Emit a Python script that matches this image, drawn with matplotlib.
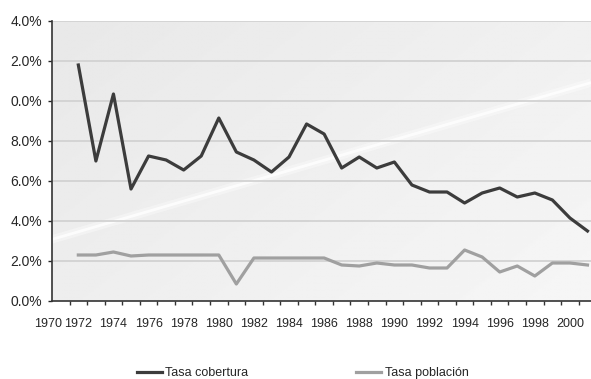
import numpy as np
import matplotlib
matplotlib.use("Agg")
import matplotlib.pyplot as plt

plt.rcParams['font.family'] = ['Liberation Sans', 'DejaVu Sans']

years = list(range(1972, 2002))
# tasa de cobertura (%)
cobertura = [11.8, 7.0, 10.35, 5.6, 7.25, 7.05, 6.55, 7.25, 9.15, 7.45,
             7.05, 6.45, 7.2, 8.85, 8.35, 6.65, 7.2, 6.65, 6.95, 5.8,
             5.45, 5.45, 4.9, 5.4, 5.65, 5.2, 5.4, 5.05, 4.15, 3.5]
# tasa de poblacion (%)
poblacion = [2.3, 2.3, 2.45, 2.25, 2.3, 2.3, 2.3, 2.3, 2.3, 0.85,
             2.15, 2.15, 2.15, 2.15, 2.15, 1.8, 1.75, 1.9, 1.8, 1.8,
             1.65, 1.65, 2.55, 2.2, 1.45, 1.75, 1.25, 1.9, 1.9, 1.8]

ytick_vals = [0, 2, 4, 6, 8, 10, 12, 14]
ytick_labels = ["0.0%", "2.0%", "4.0%", "6.0%", "8.0%", "0.0%", "2.0%", "4.0%"]
xtick_years = list(range(1972, 2001, 2))

txt = '#262626'

fig = plt.figure(figsize=(5.91, 3.79), dpi=100)
ax = fig.add_axes([52 / 591, 1 - 301 / 379, 1 - 52 / 591, 280 / 379])

# grey gradient background with a light diagonal streak
gx, gy = np.meshgrid(np.linspace(0, 1, 200), np.linspace(0, 1, 200))
grad = 0.91 + 0.055 * (0.6 * gx + 0.4 * gy)
ax.imshow(grad, extent=[0, 1, 0, 1], transform=ax.transAxes, cmap='gray',
          vmin=0, vmax=1, aspect='auto', zorder=0, origin='upper')
ax.plot([0, 1], [0.22, 0.78], transform=ax.transAxes, color='white',
        lw=6, alpha=0.35, zorder=1, solid_capstyle='butt')
ax.plot([0, 1], [0.22, 0.78], transform=ax.transAxes, color='white',
        lw=2, alpha=0.8, zorder=1, solid_capstyle='butt')

for v in ytick_vals[1:]:
    ax.axhline(v, color='#d2d2d2', lw=1.3, zorder=2)

ax.plot(years, cobertura, color='#3c3c3c', lw=2.3, zorder=4, label='Tasa cobertura')
ax.plot(years, poblacion, color='#a0a0a0', lw=2.3, zorder=3, label='Tasa población')

ax.set_xlim(1970.5, 2001.2)
ax.set_ylim(0, 14)

ax.set_yticks(ytick_vals)
ax.set_yticklabels(ytick_labels)
ax.set_xticks(xtick_years)
ax.set_xticklabels([str(y) for y in xtick_years])
ax.set_xticks(np.arange(1971.5, 2001.5, 1), minor=True)
ax.tick_params(axis='x', which='major', length=0, pad=12, labelsize=9, colors=txt)
ax.tick_params(axis='x', which='minor', length=3, width=1, color='#333333')
ax.tick_params(axis='y', length=3, width=1, pad=4, labelsize=10, colors=txt)
ax.annotate('1970', xy=(1970.27, 0), xycoords=('data', 'axes fraction'),
            xytext=(0, -12), textcoords='offset points', ha='center', va='top',
            fontsize=9, color=txt, annotation_clip=False)

for s in ['top', 'right']:
    ax.spines[s].set_visible(False)
for s in ['left', 'bottom']:
    ax.spines[s].set_color('#333333')
    ax.spines[s].set_linewidth(1.2)

fig.legend(loc='center', bbox_to_anchor=(0.512, 1 - 373 / 379), ncol=2,
           frameon=False, fontsize=9, handlelength=2.0, handletextpad=0.3,
           columnspacing=8.6, labelcolor=txt)

fig.savefig('out.png', dpi=100)
